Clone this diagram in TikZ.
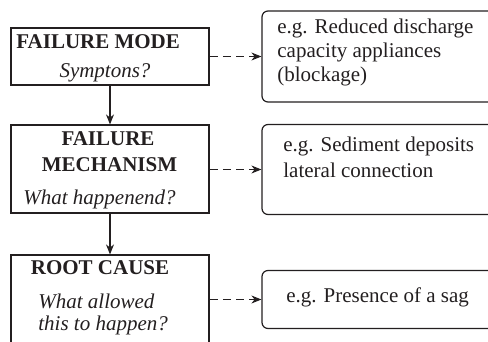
\documentclass[tikz,border=0pt]{standalone}
\usepackage{fontspec}
\setmainfont{Liberation Serif}
\usetikzlibrary{arrows.meta}
\definecolor{ink}{HTML}{231F20}
\begin{document}
\begin{tikzpicture}[x=0.5pt,y=-0.5pt,
  stagebox/.style={draw=ink, line width=0.6pt, inner sep=0, minimum width=99pt},
  examplebox/.style={draw=ink, line width=0.6pt, inner sep=0, minimum width=129pt, rounded corners=3pt},
  txt/.style={inner sep=0, text=ink, font=\fontsize{10.5}{12.6}\selectfont},
  flow/.style={draw=ink, line width=0.6pt, -{Stealth[length=5pt,width=4pt,inset=1.6pt]}},
  link/.style={draw=ink, line width=0.6pt, dash pattern=on 4pt off 2.6pt, -{Stealth[length=5pt,width=4pt,inset=1.6pt]}}]
\useasboundingbox (0,0) rectangle (488,342);
\clip (0,0) rectangle (488,342);

% stages of the analysis
\node[stagebox, minimum height=28.5pt] (mode)  at (110,56.5) {};
\node[stagebox, minimum height=44pt]   (mech)  at (110,169)  {};
\node[stagebox, minimum height=57.5pt] (cause) at (110,312.5) {};

% examples
\node[examplebox, minimum height=45.5pt] (ex1) at (391,56.5) {};
\node[examplebox, minimum height=45pt]   (ex2) at (391,169.5)  {};
\node[examplebox, minimum height=29pt]   (ex3) at (391,299.5)  {};

% stage labels
\node[txt, anchor=base west] (t1a) at (16,49) {\bfseries FAILURE MODE};
\node[txt, anchor=base] (t1b) at (105,78) {\itshape Symptons?};
\node[txt, anchor=base] (t2a) at (108,146) {\bfseries FAILURE};
\node[txt, anchor=base] (t2b) at (109.5,172) {\bfseries MECHANISM};
\node[txt, anchor=base west] (t2c) at (23,205) {\itshape What happenend?};
\node[txt, anchor=base] (t3a) at (100,275) {\bfseries ROOT CAUSE};
\node[txt, anchor=base west] (t3b) at (38,308) {\itshape What allowed};
\node[txt, anchor=base west] (t3c) at (38,330) {\itshape this to happen?};

% example labels
\node[txt, anchor=base west] (e1a) at (277,34) {e.g. Reduced discharge};
\node[txt, anchor=base west] (e1b) at (277,58) {capacity appliances};
\node[txt, anchor=base west] (e1c) at (277,82) {(blockage)};
\node[txt, anchor=base west] (e2a) at (283,152) {e.g. Sediment deposits};
\node[txt, anchor=base west] (e2b) at (283,177) {lateral connection};
\node[txt, anchor=base west] (e3a) at (286,302) {e.g. Presence of a sag};

% connectors
\draw[flow] (mode.south) -- (mech.north);
\draw[flow] (mech.south) -- (cause.north);
\draw[link] (mode.east) -- (ex1.west);
\draw[link] (mech.east |- ex2.west) -- (ex2.west);
\draw[link] (cause.east |- ex3.west) -- (ex3.west);
\end{tikzpicture}
\end{document}
